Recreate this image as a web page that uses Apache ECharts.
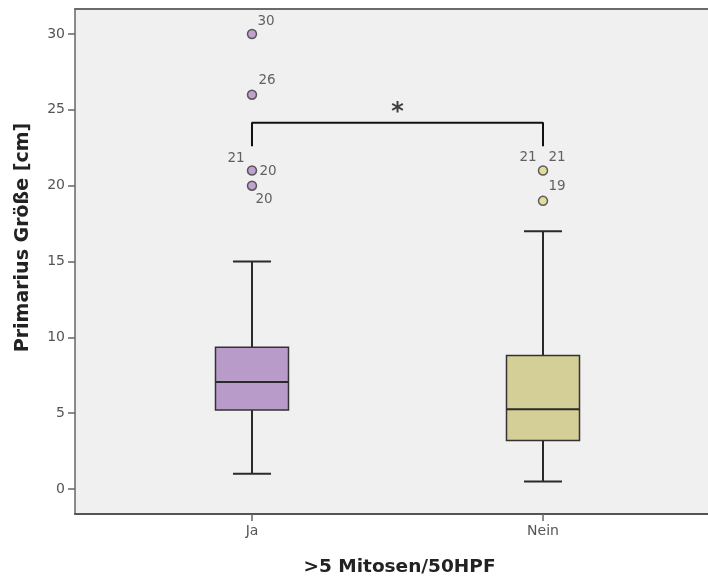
<!DOCTYPE html>
<html>
<head>
<meta charset="utf-8">
<script src="https://cdn.jsdelivr.net/npm/echarts@6/dist/echarts.min.js"></script>
<style>html,body{margin:0;padding:0;background:#fff}#c{width:708px;height:577px}</style>
</head>
<body>
<div id="c"></div>
<script>
// ---- data ----
var categories = ['Ja', 'Nein'];
var categoryPos = [1, 2];
var whiskerMin = [1.0, 0.5];
var q1 = [5.2, 3.2];
var median = [7.05, 5.25];
var q3 = [9.35, 8.8];
var whiskerMax = [15.0, 17.0];
var outlierX = [1, 1, 1, 1, 2, 2];
var outlierY = [30, 26, 21, 20, 21, 19];
// labels: [x, y, text]
var outlierLabels = [
  [1, 30, '30'], [1, 26, '26'], [1, 21, '21'], [1, 21, '20'], [1, 20, '20'],
  [2, 21, '21'], [2, 21, '21'], [2, 19, '19']
];
var yTicks = [0, 5, 10, 15, 20, 25, 30];
var bracketX = [1, 1, 2, 2];
var bracketY = [22.6, 24.15, 24.15, 22.6];
var starPos = [1.5, 25.1];

// ---- styles ----
var boxColors = ['#b99bc9', '#d4cf97'];
var pointColors = ['#b38ec6', '#dcd88a'];
var labelOffsets = [[14, -13], [15, -14], [-16, -12], [16, 1], [12, 14], [-15, -13], [14, -13], [14, -14]];

var boxData = categoryPos.map(function (x, i) {
  return [x, whiskerMin[i], q1[i], median[i], q3[i], whiskerMax[i]];
});

var chart = echarts.init(document.getElementById('c'), null, {renderer: 'canvas'});
var font = 'DejaVu Sans';
chart.setOption({
  backgroundColor: '#ffffff',
  animation: false,
  grid: {
    left: 75, top: 9, bottom: 63, right: 0,
    outerBoundsMode: 'none', containLabel: false,
    show: true, backgroundColor: '#f0f0f0', borderWidth: 0
  },
  xAxis: [{
    type: 'value', min: 0.3918, max: 2.567,
    name: '>5 Mitosen/50HPF', nameLocation: 'middle', nameGap: 44,
    nameTextStyle: {fontFamily: font, fontSize: 18.5, fontWeight: 'bold', color: '#222', padding: [0, 0, 0, 16]},
    splitLine: {show: false},
    axisLine: {show: true, onZero: false, lineStyle: {color: '#555', width: 2}},
    axisTick: {show: true, length: 7, customValues: categoryPos, lineStyle: {color: '#666', width: 1.5}},
    axisLabel: {
      customValues: categoryPos, margin: 10, fontFamily: font, fontSize: 14, color: '#555',
      formatter: function (v) { return categories[Math.round(v) - 1] || ''; }
    }
  }, {
    type: 'value', position: 'top', min: 0.3918, max: 2.567,
    splitLine: {show: false}, axisTick: {show: false}, axisLabel: {show: false},
    axisLine: {show: true, onZero: false, lineStyle: {color: '#6a6a6a', width: 2}}
  }],
  yAxis: {
    type: 'value', min: -1.65, max: 31.65,
    name: 'Primarius Größe [cm]', nameLocation: 'middle', nameGap: 42,
    nameTextStyle: {fontFamily: font, fontSize: 19, fontWeight: 'bold', color: '#222', padding: [0, 0, 0, 48]},
    splitLine: {show: false},
    axisLine: {show: true, onZero: false, lineStyle: {color: '#666', width: 1.5}},
    axisTick: {show: true, length: 7, customValues: yTicks, lineStyle: {color: '#666', width: 1.5}},
    axisLabel: {customValues: yTicks, margin: 10, fontFamily: font, fontSize: 14, color: '#555'}
  },
  series: [
    {
      type: 'custom',
      data: boxData,
      encode: {x: 0, y: [1, 2, 3, 4, 5]},
      z: 3,
      renderItem: function (params, api) {
        var x = api.value(0);
        var idx = params.dataIndex;
        var halfBox = 36.5, halfCap = 19;
        var pMin = api.coord([x, api.value(1)]);
        var pQ1 = api.coord([x, api.value(2)]);
        var pMed = api.coord([x, api.value(3)]);
        var pQ3 = api.coord([x, api.value(4)]);
        var pMax = api.coord([x, api.value(5)]);
        var cx = pMin[0];
        var ls = {stroke: '#2a2a2a', lineWidth: 2};
        return {
          type: 'group',
          children: [
            {type: 'line', shape: {x1: cx, y1: pMin[1], x2: cx, y2: pQ1[1]}, style: ls},
            {type: 'line', shape: {x1: cx, y1: pQ3[1], x2: cx, y2: pMax[1]}, style: ls},
            {type: 'line', shape: {x1: cx - halfCap, y1: pMin[1], x2: cx + halfCap, y2: pMin[1]}, style: ls},
            {type: 'line', shape: {x1: cx - halfCap, y1: pMax[1], x2: cx + halfCap, y2: pMax[1]}, style: ls},
            {type: 'rect', shape: {x: cx - halfBox, y: pQ3[1], width: halfBox * 2, height: pQ1[1] - pQ3[1]},
              style: {fill: boxColors[idx], stroke: '#333', lineWidth: 1.5}},
            {type: 'line', shape: {x1: cx - halfBox, y1: pMed[1], x2: cx + halfBox, y2: pMed[1]}, style: ls}
          ]
        };
      }
    },
    {
      type: 'scatter',
      z: 4,
      symbolSize: 9,
      data: outlierX.map(function (x, i) {
        return {value: [x, outlierY[i]], itemStyle: {color: pointColors[x - 1]}};
      }),
      itemStyle: {borderColor: '#3a3a3a', borderWidth: 1.5}
    },
    {
      type: 'scatter',
      z: 5,
      symbolSize: 0,
      silent: true,
      data: outlierLabels.map(function (d, i) {
        return {
          value: [d[0], d[1]],
          label: {show: true, position: 'inside', formatter: d[2], offset: labelOffsets[i],
            fontFamily: font, fontSize: 13.5, color: '#3c3c3c'}
        };
      })
    },
    {
      type: 'line',
      z: 4,
      symbol: 'none',
      data: bracketX.map(function (x, i) { return [x, bracketY[i]]; }),
      lineStyle: {color: '#111', width: 2}
    },
    {
      type: 'scatter',
      z: 5,
      symbolSize: 0,
      data: [{value: starPos, label: {show: true, position: 'inside', formatter: '*',
        fontFamily: font, fontSize: 24, fontWeight: 'bold', color: '#111', offset: [0, 4]}}]
    }
  ]
});
</script>
</body>
</html>
